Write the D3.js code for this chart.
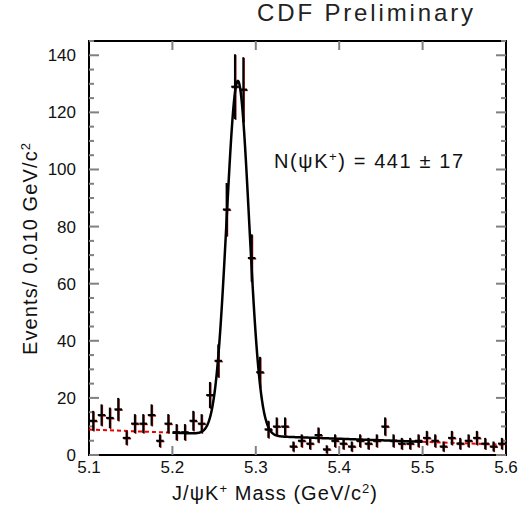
<!DOCTYPE html>
<html><head><meta charset="utf-8">
<script src="https://cdn.jsdelivr.net/npm/d3@7/dist/d3.min.js"></script>
<style>body{margin:0;background:#fff}</style>
</head><body>
<svg id="c" width="519" height="512"></svg>
<script>
// ---- data ----
const massBins = [5.105,5.115,5.125,5.135,5.145,5.155,5.165,5.175,5.185,5.195,
  5.205,5.215,5.225,5.235,5.245,5.255,5.265,5.275,5.285,5.295,
  5.305,5.315,5.325,5.335,5.345,5.355,5.365,5.375,5.385,5.395,
  5.405,5.415,5.425,5.435,5.445,5.455,5.465,5.475,5.485,5.495,
  5.505,5.515,5.525,5.535,5.545,5.555,5.565,5.575,5.585,5.595];
const counts = [12,14,13,16,6,11,11,14,5,11,
  8,8,12,11,21,33,86,129,128,69,
  29,9,10,10,3,5,4,7,2,5,
  4,3,5,4,5,10,5,4,4,5,
  6,5,3,6,4,5,6,4,3,4];
const xTicks = [5.1,5.2,5.3,5.4,5.5,5.6];
const yTicks = [0,20,40,60,80,100,120,140];
// fit parameters (Gaussian + linear background)
const fitMean = 5.2785, fitSigma = 0.0135, fitAmp = 124;
const bgAt51 = 8.9, bgSlope = -10.7;
const fitRange = [5.2, 5.5];
const bgRanges = [[5.1, 5.2], [5.5, 5.6]];
const binHalf = 0.0045;

const svg = d3.select("#c");
const x = d3.scaleLinear().domain([5.1,5.6]).range([89,506]);
const y = d3.scaleLinear().domain([0,145]).range([455,41]);
const font = "'Liberation Sans', Arial, sans-serif";

const bg = m => bgAt51 + bgSlope*(m-5.1);
const fit = m => bg(m) + fitAmp*Math.exp(-((m-fitMean)**2)/(2*fitSigma*fitSigma));

// frame
svg.append("rect").attr("x",89).attr("y",41).attr("width",417).attr("height",414)
  .attr("fill","none").attr("stroke","#000").attr("stroke-width",2);

// ticks
const tickCol = "#808080";
const inner = xTicks.slice(1,-1);
svg.append("g").selectAll("line").data(inner).join("line")
  .attr("x1",d=>x(d)).attr("x2",d=>x(d)).attr("y1",455).attr("y2",446)
  .attr("stroke",tickCol).attr("stroke-width",2);
svg.append("g").selectAll("line").data(inner).join("line")
  .attr("x1",d=>x(d)).attr("x2",d=>x(d)).attr("y1",41).attr("y2",50)
  .attr("stroke",tickCol).attr("stroke-width",2);
const yMinor = d3.range(0,146,5);
[[89,1],[506,-1]].forEach(([x0,dir])=>{
  svg.append("g").selectAll("line").data(yMinor).join("line")
    .attr("x1",x0).attr("x2",d=>x0+dir*(d%20===0?10:5))
    .attr("y1",d=>y(d)).attr("y2",d=>y(d))
    .attr("stroke",tickCol).attr("stroke-width",2);
});

// tick labels
svg.append("g").selectAll("text").data(xTicks).join("text")
  .attr("x",d=>x(d)).attr("y",473).attr("text-anchor","middle")
  .attr("font-family",font).attr("font-size",17).attr("fill","#111")
  .text(d=>d3.format(".1f")(d));
svg.append("g").selectAll("text").data(yTicks).join("text")
  .attr("x",76).attr("y",d=>y(d)+6).attr("text-anchor","end")
  .attr("font-family",font).attr("font-size",17).attr("fill","#111")
  .text(d=>d);

// background dashed line (red), outside fit range only
const line = d3.line().x(d=>x(d[0])).y(d=>y(d[1]));
bgRanges.forEach(r=>{
  svg.append("path").attr("d",line(r.map(m=>[m,bg(m)]))).attr("fill","none")
    .attr("stroke","#ee0000").attr("stroke-width",2).attr("stroke-dasharray","4,3");
});

// data points: faint red shadow then black
function drawPts(col, dx, dy, w){
  const g = svg.append("g").attr("stroke",col).attr("stroke-width",w)
    .attr("transform",`translate(${dx},${dy})`);
  const pts = massBins.map((m,i)=>({m, n:counts[i]}));
  g.selectAll("line.v").data(pts).join("line").attr("class","v")
    .attr("x1",d=>x(d.m)).attr("x2",d=>x(d.m))
    .attr("y1",d=>y(d.n+Math.sqrt(d.n))).attr("y2",d=>y(Math.max(0,d.n-Math.sqrt(d.n))));
  g.selectAll("line.h").data(pts).join("line").attr("class","h")
    .attr("x1",d=>x(d.m-binHalf)).attr("x2",d=>x(d.m+binHalf))
    .attr("y1",d=>y(d.n)).attr("y2",d=>y(d.n));
}
drawPts("#9a1010",0.8,0.8,1.6);
drawPts("#000",0,0,2);

// fit curve
const fitPts = d3.range(fitRange[0], fitRange[1]+1e-9, 0.0005).map(m=>[m,fit(m)]);
svg.append("path").attr("d",line(fitPts)).attr("fill","none")
  .attr("stroke","#000").attr("stroke-width",2.5);

// texts
svg.append("text").attr("x",257).attr("y",21).attr("font-family",font)
  .attr("font-size",24).attr("fill","#222").attr("textLength",216)
  .attr("lengthAdjust","spacing").text("CDF Preliminary");

const xt = svg.append("text").attr("x",172).attr("y",500).attr("font-family",font)
  .attr("font-size",20).attr("fill","#111").attr("textLength",205).attr("lengthAdjust","spacing");
xt.append("tspan").text("J/ψK");
xt.append("tspan").attr("dy",-7).attr("font-size",13).text("+");
xt.append("tspan").attr("dy",7).text(" Mass (GeV/c");
xt.append("tspan").attr("dy",-7).attr("font-size",13).text("2");
xt.append("tspan").attr("dy",7).text(")");

const yt = svg.append("text").attr("transform","translate(37,355) rotate(-90)")
  .attr("font-family",font).attr("font-size",20).attr("fill","#111")
  .attr("textLength",212).attr("lengthAdjust","spacing");
yt.append("tspan").text("Events/ 0.010 GeV/c");
yt.append("tspan").attr("dy",-7).attr("font-size",13).text("2");

const an = svg.append("text").attr("x",274).attr("y",168).attr("font-family",font)
  .attr("font-size",20).attr("fill","#111").attr("textLength",189).attr("lengthAdjust","spacing");
an.append("tspan").text("N(ψK");
an.append("tspan").attr("dy",-7).attr("font-size",13).text("+");
an.append("tspan").attr("dy",7).text(") = 441 ± 17");
</script>
</body></html>
